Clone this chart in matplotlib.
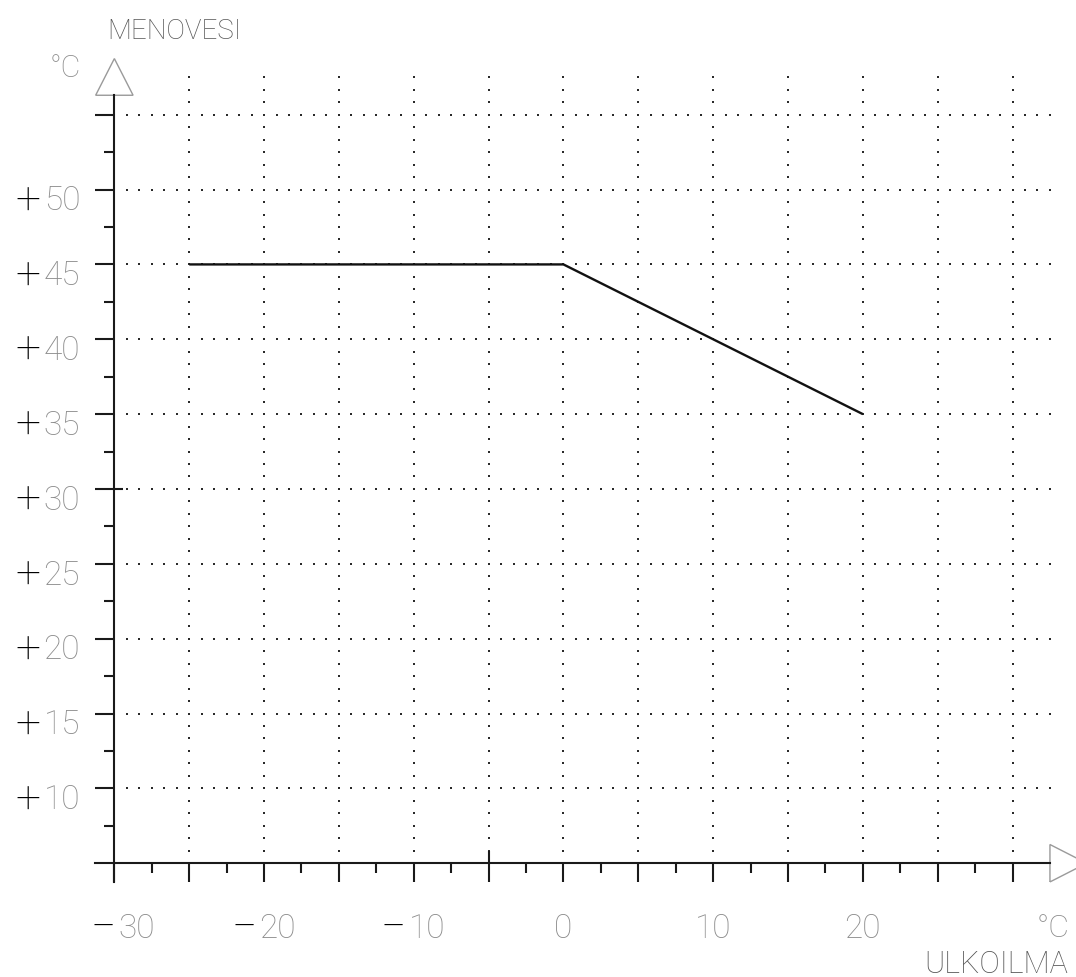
import numpy as np
import matplotlib.pyplot as plt
from matplotlib.patches import Polygon

plt.rcParams['font.family'] = ['Roboto', 'DejaVu Sans']

# heating curve: outdoor air temperature -> supply water temperature
outdoor = [-25, 0, 20]
supply = [45, 45, 35]

x_major = np.arange(-30, 31, 5)
x_minor = np.arange(-27.5, 28, 5)
y_major = np.arange(10, 56, 5)
y_minor = np.arange(7.5, 53, 5)
x_grid = np.arange(-25, 31, 5)
y_grid = np.arange(10, 56, 5)

x_label_pos = [-30, -20, -10, 0, 10, 20]
x_labels = ['30', '20', '10', '0', '10', '20']
x_signs = ['\u2212', '\u2212', '\u2212', '', '', '']
y_label_pos = [10, 15, 20, 25, 30, 35, 40, 45, 50]
y_labels = ['10', '15', '20', '25', '30', '35', '40', '45', '50']

# axis origin and extents (data units)
x0, y0 = -30, 5
x_end, y_end = 32.5, 56.3
dot_step = 5 / 6

ink = '#1a1a1a'
grey = '#8c8c8c'

fig = plt.figure(figsize=(10.76, 9.78), dpi=100)
ax = fig.add_axes([0, 0, 1, 1])
ax.set_xlim(-37.64, 34.24)
ax.set_ylim(-2.6, 62.73)
ax.axis('off')

# dotted grid
ky = np.arange(1, 64)
gx = np.repeat(x_grid, len(ky))
gy = np.tile(y0 + ky * dot_step, len(x_grid))
ax.plot(gx, gy, ls='none', marker='s', ms=1.5, mew=0, color='#2a2a2a')
kx = np.arange(1, 76)
hx = np.tile(x0 + kx * dot_step, len(y_grid))
hy = np.repeat(y_grid, len(kx))
ax.plot(hx, hy, ls='none', marker='s', ms=1.5, mew=0, color='#2a2a2a')

# axes lines
ax.plot([x0 - 1.3, x_end], [y0, y0], color=ink, lw=1.5)
ax.plot([x0, x0], [y0 - 1.27, y_end], color=ink, lw=1.5)

# ticks
ax.vlines(x_major, y0 - 1.27, y0, color=ink, lw=1.5)
ax.vlines(x_minor, y0 - 0.67, y0, color=ink, lw=1.5)
ax.hlines(y_major, x0 - 1.27, x0, color=ink, lw=1.5)
ax.hlines(y_minor, x0 - 0.72, x0, color=ink, lw=1.5)
ax.vlines([-5], y0, y0 + 0.85, color=ink, lw=1.5)
ax.hlines([30], x0, x0 + 0.6, color=ink, lw=1.5)

# arrow heads
ax.add_patch(Polygon([[x0 - 1.25, y_end], [x0 + 1.25, y_end], [x0, y_end + 2.45]],
                     closed=True, fill=False, edgecolor='#9a9a9a', lw=1))
ax.add_patch(Polygon([[x_end, y0 - 1.25], [x_end, y0 + 1.25], [x_end + 2.45, y0]],
                     closed=True, fill=False, edgecolor='#9a9a9a', lw=1, clip_on=False))

# curve
ax.plot(outdoor, supply, color='#111111', lw=1.7, solid_capstyle='butt')

# tick labels: sign in black, digits in grey
fs = 24
sign_font = dict(fontsize=32, color='#000000', fontweight='light')
nudge = {-30: 0.6}
for v, lab, sign in zip(x_label_pos, x_labels, x_signs):
    shift = 0.9 if sign else 0
    t = ax.text(v + shift + nudge.get(v, 0), 0.68, lab, ha='center', va='center',
                fontsize=fs, color=grey, fontweight='light')
    if sign:
        ax.annotate(sign, xy=(0, 0.5), xycoords=t, xytext=(-2, 0),
                    textcoords='offset points', ha='right', va='center',
                    **sign_font)
for v, lab in zip(y_label_pos, y_labels):
    t = ax.text(-32.29, v - 0.72, lab, ha='right', va='center', fontsize=fs,
                color=grey, fontweight='light')
    ax.annotate('+', xy=(0, 0.5), xycoords=t, xytext=(-2, 0),
                textcoords='offset points', ha='right', va='center',
                **sign_font)

# axis titles
ax.text(-30.45, 60.6, 'MENOVESI', ha='left', va='center', fontsize=20,
        color='#555555', fontweight='light')
ax.text(-34.3, 58.15, '\u00b0C', ha='left', va='center', fontsize=22,
        color=grey, fontweight='light')
ax.text(33.8, 0.68, '\u00b0C', ha='right', va='center', fontsize=23,
        color=grey, fontweight='light')
ax.text(33.7, -1.72, 'ULKOILMA', ha='right', va='center', fontsize=22,
        color='#555555', fontweight='light')

fig.savefig('out.png', dpi=100)
